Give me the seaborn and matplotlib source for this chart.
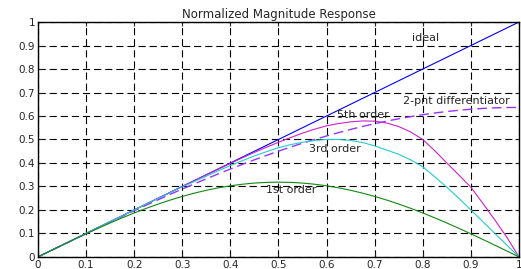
import numpy as np
import pandas as pd
import matplotlib
matplotlib.use("Agg")
import matplotlib.pyplot as plt
import seaborn as sns

# normalized frequency, values read every 0.025
freq = [0.0, 0.025, 0.05, 0.075, 0.1, 0.125, 0.15, 0.175, 0.2, 0.225,
        0.25, 0.275, 0.3, 0.325, 0.35, 0.375, 0.4, 0.425, 0.45, 0.475,
        0.5, 0.525, 0.55, 0.575, 0.6, 0.625, 0.65, 0.675, 0.7, 0.725,
        0.75, 0.775, 0.8, 0.825, 0.85, 0.875, 0.9, 0.925, 0.95, 0.975, 1.0]

ideal = [0.0, 0.025, 0.05, 0.075, 0.1, 0.125, 0.15, 0.175, 0.2, 0.225,
         0.25, 0.275, 0.3, 0.325, 0.35, 0.375, 0.4, 0.425, 0.45, 0.475,
         0.5, 0.525, 0.55, 0.575, 0.6, 0.625, 0.65, 0.675, 0.7, 0.725,
         0.75, 0.775, 0.8, 0.825, 0.85, 0.875, 0.9, 0.925, 0.95, 0.975, 1.0]

two_pnt = [0.0, 0.025, 0.0499, 0.0748, 0.0996, 0.1242, 0.1486, 0.1728, 0.1967, 0.2203,
           0.2436, 0.2665, 0.289, 0.311, 0.3326, 0.3537, 0.3742, 0.3941, 0.4134, 0.4321,
           0.4502, 0.4675, 0.4841, 0.4999, 0.515, 0.5293, 0.5428, 0.5554, 0.5672, 0.5781,
           0.5882, 0.5973, 0.6055, 0.6127, 0.619, 0.6244, 0.6288, 0.6322, 0.6346, 0.6361, 0.6366]

order5 = [0.0, 0.025, 0.05, 0.075, 0.1, 0.125, 0.15, 0.175, 0.2, 0.225,
          0.25, 0.275, 0.3, 0.325, 0.349, 0.374, 0.398, 0.422, 0.445, 0.467,
          0.488, 0.508, 0.527, 0.544, 0.558, 0.568, 0.575, 0.579, 0.578, 0.57,
          0.555, 0.532, 0.50, 0.452, 0.40, 0.349, 0.297, 0.228, 0.157, 0.083, 0.0]

order3 = [0.0, 0.025, 0.05, 0.075, 0.1, 0.125, 0.15, 0.175, 0.2, 0.225,
          0.249, 0.274, 0.298, 0.321, 0.344, 0.367, 0.389, 0.41, 0.43, 0.448,
          0.465, 0.478, 0.488, 0.496, 0.50, 0.50, 0.496, 0.487, 0.473, 0.455,
          0.437, 0.413, 0.384, 0.341, 0.297, 0.25, 0.20, 0.15, 0.10, 0.05, 0.0]

order1 = [0.0, 0.025, 0.0498, 0.0743, 0.0984, 0.1218, 0.1445, 0.1663, 0.1871, 0.2067,
          0.2251, 0.242, 0.2575, 0.2714, 0.2836, 0.2941, 0.3027, 0.3095, 0.3144, 0.3173,
          0.3183, 0.3173, 0.3144, 0.3095, 0.3027, 0.2941, 0.2836, 0.2714, 0.2575, 0.242,
          0.2251, 0.2067, 0.1871, 0.1663, 0.1445, 0.1218, 0.0984, 0.0743, 0.0498, 0.025, 0.0]

ticks = [0, 0.1, 0.2, 0.3, 0.4, 0.5, 0.6, 0.7, 0.8, 0.9, 1]
tick_labels = ["0", "0.1", "0.2", "0.3", "0.4", "0.5", "0.6", "0.7", "0.8", "0.9", "1"]

sns.set_style("white")
plt.rcParams['font.family'] = ['DejaVu Sans']

fig = plt.figure(figsize=(5.21, 2.69), dpi=100)
ax = fig.add_axes([0.073, 0.045, 0.923, 0.873])

sns.lineplot(x=freq, y=ideal, color="#0000ff", lw=0.8, ax=ax)
sns.lineplot(x=freq, y=two_pnt, color="#9933ff", lw=1.0, ax=ax, linestyle=(0, (7, 3.5)))
sns.lineplot(x=freq, y=order5, color="#cc22cc", lw=0.8, ax=ax)
sns.lineplot(x=freq, y=order3, color="#22cccc", lw=0.8, ax=ax)
sns.lineplot(x=freq, y=order1, color="#118811", lw=0.8, ax=ax)

ax.set_xlim(0, 1)
ax.set_ylim(0, 1)
ax.set_xticks(ticks)
ax.set_xticklabels(tick_labels)
ax.set_yticks(ticks)
ax.set_yticklabels(tick_labels)
ax.tick_params(direction="in", length=3, width=0.8, labelsize=7.5, pad=2,
               top=True, right=True, bottom=True, left=True)
ax.grid(True, color="black", linestyle=(0, (6.5, 3.5)), linewidth=0.8)
for s in ax.spines.values():
    s.set_color("black")
    s.set_linewidth(1.0)

ax.set_title("Normalized Magnitude Response", fontsize=8.5, pad=3)

ax.text(0.778, 0.93, "ideal", fontsize=8, va="center")
ax.text(0.758, 0.665, "2-pnt differentiator", fontsize=8, va="center")
ax.text(0.621, 0.604, "5th order", fontsize=8, va="center")
ax.text(0.564, 0.46, "3rd order", fontsize=8, va="center")
ax.text(0.475, 0.285, "1st order", fontsize=8, va="center")

fig.savefig("out.png", dpi=100)
